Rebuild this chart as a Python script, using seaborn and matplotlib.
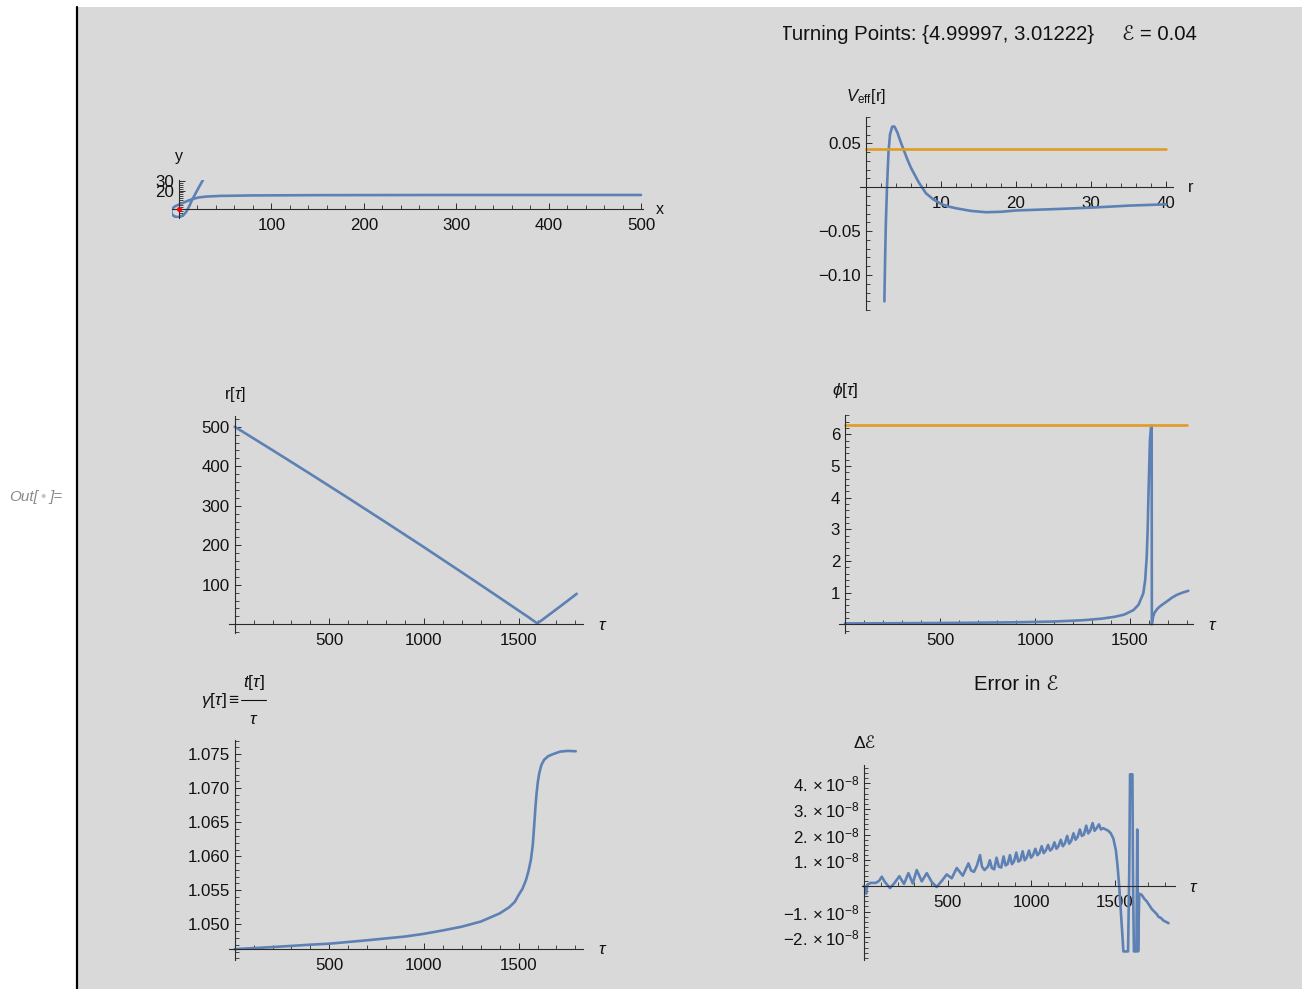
import matplotlib
matplotlib.use("Agg")
import matplotlib.pyplot as plt
import seaborn as sns
from matplotlib.ticker import MultipleLocator, FixedLocator, FixedFormatter
from matplotlib.lines import Line2D
from matplotlib.patches import Rectangle

# ---------------- data ----------------
orbit_x = [500, 300, 150, 80, 45, 30, 22, 16, 11, 6.5, 2.5, -1.5, -5, -7.5, -8.5, -7.5, -5,
           -1.5, 2, 5, 7.5, 9.5, 11.5, 14, 18, 22, 26]
orbit_y = [15.2, 15.2, 15.0, 14.7, 14.2, 13.5, 12.6, 11.2, 9.5, 7.6, 5.8, 4.2, 2.5, 0, -3,
           -6, -8.0, -8.8, -8.2, -6.3, -3.5, 0, 4, 9.5, 17, 24.5, 31.5]
hole_x = [0]
hole_y = [0]

veff_r = [2.45, 2.55, 2.65, 2.8, 3.0, 3.2, 3.5, 3.8, 4.2, 4.6, 5.0, 5.5, 6.0, 7.0, 8.0, 9.0,
          10, 11, 12, 14, 16, 18, 20, 25, 30, 35, 40]
veff_v = [-0.130, -0.080, -0.040, 0.000, 0.040, 0.060, 0.069, 0.069, 0.062, 0.052, 0.043,
          0.032, 0.022, 0.006, -0.007, -0.014, -0.019, -0.022, -0.024, -0.027, -0.0285,
          -0.028, -0.0265, -0.025, -0.0233, -0.021, -0.0195]
energy_r = [0, 40]
energy_v = [0.043, 0.043]

r_tau = [0, 200, 400, 600, 800, 1000, 1200, 1400, 1500, 1550, 1575, 1590, 1596, 1602, 1615,
         1650, 1700, 1750, 1807]
r_val = [500, 440.6, 380.4, 319.3, 257.5, 195, 131.3, 67, 34.5, 18.5, 10, 5, 3.0, 3.6, 7.5,
         20, 38, 56, 77]

phi_tau = [0, 300, 600, 900, 1100, 1250, 1350, 1420, 1470, 1518, 1545, 1570, 1580, 1588,
           1593, 1597, 1601, 1605, 1610, 1614, 1615, 1618, 1622, 1630, 1645, 1660, 1693,
           1720, 1746, 1775, 1807]
phi_val = [0.03, 0.037, 0.048, 0.066, 0.09, 0.13, 0.18, 0.24, 0.31, 0.45, 0.62, 0.98, 1.4,
           2.14, 3.0, 4.03, 4.95, 5.82, 6.2, 6.28, 0.0, 0.12, 0.25, 0.38, 0.5, 0.58, 0.72,
           0.84, 0.93, 1.0, 1.06]
twopi_tau = [0, 1800]
twopi_val = [6.283, 6.283]

gamma_tau = [0, 200, 400, 500, 700, 900, 1000, 1100, 1200, 1300, 1400, 1450, 1480, 1500,
             1520, 1539, 1552, 1565, 1575, 1582, 1589, 1595, 1602, 1609, 1620, 1635, 1655,
             1679, 1720, 1760, 1802]
gamma_val = [1.04635, 1.04665, 1.04700, 1.04715, 1.04765, 1.04820, 1.04860, 1.04910,
             1.04965, 1.05040, 1.05160, 1.05250, 1.05330, 1.05430, 1.05520, 1.05650,
             1.05780, 1.05950, 1.06170, 1.06440, 1.06720, 1.06930, 1.07100, 1.07220,
             1.07340, 1.07420, 1.07470, 1.07500, 1.07540, 1.07550, 1.07545]

err_tau = [0, 6, 12, 20, 40, 70, 90, 106, 125, 155, 180, 211, 239, 265, 291, 315, 345, 375,
           405, 434, 465, 494, 524, 554, 590, 624, 640, 657, 675, 693, 705, 720, 740, 752,
           764, 778, 792, 806, 820, 834, 846, 858, 872, 884, 896, 910, 922, 934, 948, 960,
           972, 986, 998, 1010, 1024, 1036, 1048, 1062, 1074, 1086, 1100, 1112, 1124, 1138,
           1150, 1162, 1176, 1188, 1200, 1214, 1226, 1238, 1252, 1264, 1276, 1290, 1302,
           1314, 1328, 1340, 1352, 1366, 1378, 1390, 1404, 1416, 1430, 1445, 1460, 1475,
           1490, 1505, 1515, 1525, 1535, 1545, 1550, 1578, 1585, 1590, 1604, 1608, 1613,
           1628, 1633, 1638, 1645, 1660, 1675, 1690, 1705, 1720, 1735, 1750, 1760, 1775,
           1790, 1805, 1820]
err_val = [0.0, -0.05, -0.3, 0.05, 0.12, 0.12, 0.2, 0.36, 0.15, -0.08, 0.1, 0.38, 0.08, 0.5,
           0.1, 0.62, 0.18, 0.5, 0.15, -0.04, 0.2, 0.45, 0.3, 0.7, 0.4, 0.88, 0.6, 0.55, 0.8,
           1.2, 0.75, 0.62, 0.75, 1.0, 0.7, 0.65, 1.1, 0.75, 0.72, 1.15, 0.8, 0.85, 1.2,
           0.85, 0.95, 1.3, 0.95, 1.0, 1.35, 1.0, 1.1, 1.38, 1.1, 1.2, 1.45, 1.2, 1.28, 1.55,
           1.28, 1.38, 1.6, 1.38, 1.45, 1.7, 1.45, 1.55, 1.8, 1.55, 1.65, 1.95, 1.65, 1.75,
           2.05, 1.8, 1.9, 2.2, 1.95, 2.0, 2.35, 2.05, 2.15, 2.45, 2.15, 2.25, 2.4, 2.2, 2.25,
           2.2, 2.15, 2.05, 1.85, 1.4, 0.8, 0.0, -1.0, -2.0, -2.55, -2.55, 0.5, 4.35, 4.35,
           0.0, -2.55, -2.55, 2.2, -2.55, -0.3, -0.35, -0.5, -0.6, -0.75, -0.9, -1.0, -1.1,
           -1.2, -1.25, -1.35, -1.4, -1.45]
err_scale = 1e-8

turning_points = ["4.99997", "3.01222"]
energy_text = "0.04"

# ---------------- style ----------------
W, H = 1302, 989
BG = "#d9d9d9"
BLUE = "#5e81b5"
ORANGE = "#e19c24"
AXC = "#2b2b2b"
LW = 1.9

sns.set_theme(style="white")
plt.rcParams["font.family"] = ["Liberation Sans", "DejaVu Sans"]
plt.rcParams["mathtext.fontset"] = "custom"
plt.rcParams["mathtext.rm"] = "Liberation Sans"
plt.rcParams["mathtext.it"] = "Liberation Sans:italic"
plt.rcParams["mathtext.bf"] = "Liberation Sans:bold"
plt.rcParams["mathtext.fallback"] = "stixsans"
plt.rcParams["axes.unicode_minus"] = True

fig = plt.figure(figsize=(W / 100, H / 100), dpi=100, facecolor="white")
fig.patches.append(Rectangle((78 / W, 0), 1 - 78 / W, (H - 7) / H, transform=fig.transFigure,
                             facecolor=BG, edgecolor="none", zorder=-20))
fig.lines.append(Line2D([77 / W, 77 / W], [0, (H - 7) / H], transform=fig.transFigure,
                        color="black", lw=1.6, zorder=-19))


def place(xcal, ycal, xlim, ylim):
    (xa, pa), (xb, pb) = xcal
    sx = (pb - pa) / (xb - xa)
    left = pa + (xlim[0] - xa) * sx
    right = pa + (xlim[1] - xa) * sx
    (ya, qa), (yb, qb) = ycal
    sy = (qb - qa) / (yb - ya)
    top = qa + (ylim[1] - ya) * sy
    bottom = qa + (ylim[0] - ya) * sy
    ax = fig.add_axes([left / W, 1 - bottom / H, (right - left) / W, (bottom - top) / H])
    ax.set_xlim(xlim)
    ax.set_ylim(ylim)
    ax.patch.set_alpha(0)
    return ax


def axstyle(ax, x0, y0):
    for s in ("top", "right"):
        ax.spines[s].set_visible(False)
    ax.spines["left"].set_position(("data", x0))
    ax.spines["bottom"].set_position(("data", y0))
    for s in ("left", "bottom"):
        ax.spines[s].set_color(AXC)
        ax.spines[s].set_linewidth(0.8)
    ax.tick_params(which="both", direction="in", color=AXC, labelcolor="#111111",
                   labelsize=12.2, bottom=True, left=True, top=False, right=False)
    ax.tick_params(which="major", length=4.5, width=0.7)
    ax.tick_params(which="minor", length=2.6, width=0.6)
    ax.tick_params(axis="x", which="both", pad=6.5)
    ax.tick_params(axis="y", which="both", pad=3.5)
    ax.grid(False)
    ax.set_xlabel("")
    ax.set_ylabel("")


def ftext(x, y, s, **kw):
    kw.setdefault("ha", "center")
    kw.setdefault("va", "center")
    kw.setdefault("color", "#111111")
    return fig.text(x / W, 1 - y / H, s, **kw)


def line(ax, xs, ys, color):
    sns.lineplot(x=xs, y=ys, ax=ax, color=color, lw=LW, sort=False, estimator=None,
                 legend=False)


# ---------------- panel 1 : orbit ----------------
ax1 = place(((0, 179), (500, 641)), ((0, 209), (30, 181.3)), (-8, 502), (-9.7, 31))
line(ax1, orbit_x, orbit_y, BLUE)
ax1.plot(hole_x, hole_y, "o", color="red", ms=2.6, zorder=5)
axstyle(ax1, 0, 0)
ax1.xaxis.set_major_locator(FixedLocator([100, 200, 300, 400, 500]))
ax1.xaxis.set_minor_locator(MultipleLocator(20))
ax1.yaxis.set_major_locator(FixedLocator([20, 30]))
ax1.yaxis.set_minor_locator(MultipleLocator(2))
ftext(179, 157, "y", fontsize=11.5)
ftext(660, 210, "x", fontsize=11.5)

# ---------------- panel 2 : Veff ----------------
ax2 = place(((10, 941), (40, 1166)), ((0.05, 143.3), (-0.10, 275)), (-0.8, 40.9), (-0.14, 0.08))
line(ax2, veff_r, veff_v, BLUE)
line(ax2, energy_r, energy_v, ORANGE)
axstyle(ax2, 0, 0)
ax2.xaxis.set_major_locator(FixedLocator([10, 20, 30, 40]))
ax2.xaxis.set_minor_locator(MultipleLocator(2))
ax2.yaxis.set_major_locator(FixedLocator([-0.10, -0.05, 0.05]))
ax2.yaxis.set_major_formatter(FixedFormatter(["\u22120.10", "\u22120.05", "0.05"]))
ax2.yaxis.set_minor_locator(MultipleLocator(0.01))
ftext(866, 97, r"$V_{\mathrm{eff}}\mathrm{[r]}$", fontsize=12)
ftext(1191, 188, "r", fontsize=11.5)

# ---------------- panel 3 : r(tau) ----------------
ax3 = place(((500, 329.3), (1500, 518.6)), ((500, 426.7), (100, 584.7)), (-30, 1838), (-23, 528))
line(ax3, r_tau, r_val, BLUE)
axstyle(ax3, 0, 0)
ax3.xaxis.set_major_locator(FixedLocator([500, 1000, 1500]))
ax3.xaxis.set_minor_locator(MultipleLocator(100))
ax3.yaxis.set_major_locator(FixedLocator([100, 200, 300, 400, 500]))
ax3.yaxis.set_minor_locator(MultipleLocator(20))
ftext(235, 395, r"$\mathrm{r}[\tau]$", fontsize=12)
ftext(603, 625, r"$\tau$", fontsize=12.5)

# ---------------- panel 4 : phi(tau) ----------------
ax4 = place(((500, 940), (1500, 1130)), ((6, 434.3), (1, 592.7)), (-33, 1830), (-0.27, 6.62))
line(ax4, phi_tau, phi_val, BLUE)
line(ax4, twopi_tau, twopi_val, ORANGE)
axstyle(ax4, 0, 0)
ax4.xaxis.set_major_locator(FixedLocator([500, 1000, 1500]))
ax4.xaxis.set_minor_locator(MultipleLocator(100))
ax4.yaxis.set_major_locator(FixedLocator([1, 2, 3, 4, 5, 6]))
ax4.yaxis.set_minor_locator(MultipleLocator(0.2))
ftext(845, 391, r"$\phi[\tau]$", fontsize=12.5)
ftext(1213, 625, r"$\tau$", fontsize=12.5)

# ---------------- panel 5 : gamma(tau) ----------------
ax5 = place(((500, 329.3), (1500, 518.6)), ((1.075, 754.3), (1.050, 924.3)), (-30, 1838),
            (1.04475, 1.0771))
line(ax5, gamma_tau, gamma_val, BLUE)
axstyle(ax5, 0, 1.0464)
ax5.xaxis.set_major_locator(FixedLocator([500, 1000, 1500]))
ax5.xaxis.set_minor_locator(MultipleLocator(100))
ax5.yaxis.set_major_locator(FixedLocator([1.050, 1.055, 1.060, 1.065, 1.070, 1.075]))
ax5.yaxis.set_major_formatter(FixedFormatter(["1.050", "1.055", "1.060", "1.065", "1.070", "1.075"]))
ax5.yaxis.set_minor_locator(MultipleLocator(0.001))
ftext(221, 700, r"$\gamma[\tau]\equiv$", fontsize=12.5)
ftext(254, 682, r"$t[\tau]$", fontsize=12.5)
ftext(254, 720, r"$\tau$", fontsize=12.5)
fig.lines.append(Line2D([241 / W, 266 / W], [1 - 700 / H, 1 - 700 / H], transform=fig.transFigure,
                        color="#111111", lw=0.8))
ftext(603, 949, r"$\tau$", fontsize=12.5)

# ---------------- panel 6 : energy error ----------------
ax6 = place(((500, 947.7), (1500, 1115)), ((4e-8, 783.3), (-2e-8, 937.3)), (-14, 1859),
            (-2.87e-8, 4.7e-8))
line(ax6, err_tau, [v * err_scale for v in err_val], BLUE)
axstyle(ax6, 0, 0)
ax6.xaxis.set_major_locator(FixedLocator([500, 1000, 1500]))
ax6.xaxis.set_minor_locator(MultipleLocator(100))
ylev = [-2, -1, 1, 2, 3, 4]
ax6.yaxis.set_major_locator(FixedLocator([v * err_scale for v in ylev]))
ax6.yaxis.set_major_formatter(FixedFormatter(
    [(r"$-%d.\times10^{-8}$" % (-v)) if v < 0 else (r"$%d.\times10^{-8}$" % v) for v in ylev]))
ax6.yaxis.set_minor_locator(MultipleLocator(0.2e-8))
ftext(1016, 684, "Error in \u2130", fontsize=14.6)
ftext(865, 743, "\u0394\u2130", fontsize=12.5)
ftext(1194, 887, r"$\tau$", fontsize=12.5)

# ---------------- title ----------------
tax = fig.add_axes([783 / W, 1 - 55 / H, (1302 - 783) / W, 40 / H])
tax.set_axis_off()
tax.patch.set_alpha(0)
tax.text((1094 - 783) / (1302 - 783), 0.5,
         "Turning Points: {%s, %s}" % (turning_points[0], turning_points[1]),
         transform=tax.transAxes, ha="right", va="center", fontsize=14.7, color="#111111",
         clip_on=True)
ftext(1122, 35, "\u2130 = %s" % energy_text, fontsize=14.6, ha="left")

# ---------------- Out label ----------------
ftext(38, 497, "Out[", fontsize=11, style="italic", color="#8a8a8a", ha="right")
ftext(43, 497, "\u2022", fontsize=11, color="#c4c4c4")
ftext(49, 497, "]=", fontsize=11, style="italic", color="#8a8a8a", ha="left")

fig.savefig("out.png", dpi=100, facecolor="white")
